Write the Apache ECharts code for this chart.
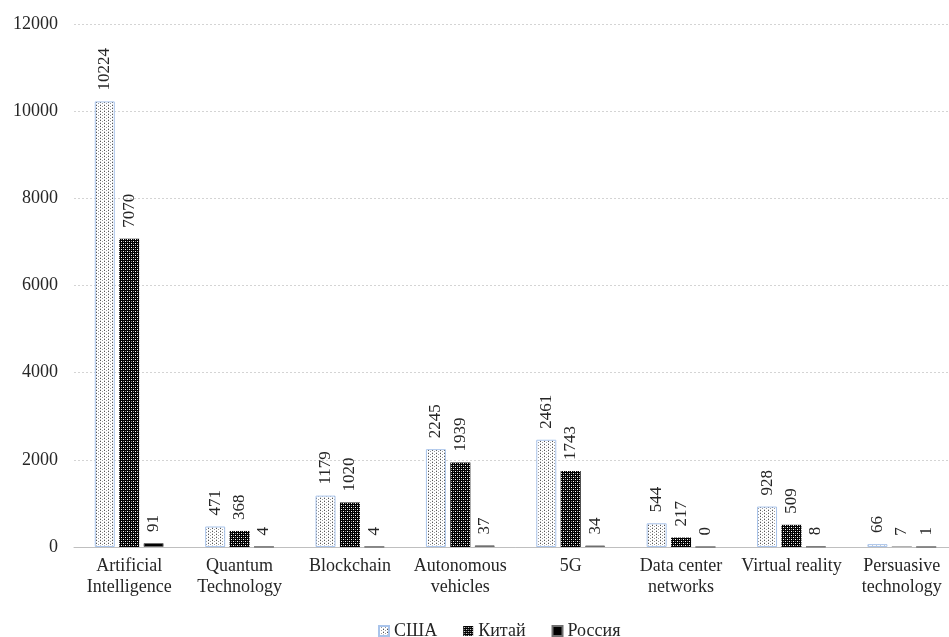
<!DOCTYPE html>
<html>
<head>
<meta charset="utf-8">
<script src="https://cdn.jsdelivr.net/npm/echarts@6/dist/echarts.min.js"></script>
<style>
  html, body { margin: 0; padding: 0; background: #fff; overflow: hidden; }
  /* drawing surface runs slightly past the right edge of the window */
  #chart { width: 957px; height: 637px; }
</style>
</head>
<body>
<div id="chart"></div>
<script>
// Categories and publication counts per country
const categories = [
  'Artificial\nIntelligence', 'Quantum\nTechnology', 'Blockchain', 'Autonomous\nvehicles',
  '5G', 'Data center\nnetworks', 'Virtual reality', 'Persuasive\ntechnology'
];
const usa    = [10224, 471, 1179, 2245, 2461, 544, 928, 66];
const china  = [7070, 368, 1020, 1939, 1743, 217, 509, 7];
const russia = [91, 4, 4, 37, 34, 0, 8, 1];
const seriesNames = ['США', 'Китай', 'Россия'];
const yTicks = { min: 0, max: 12000, interval: 2000 };

// Small tiled fills for the bars
function makeTile(w, h, draw) {
  const c = document.createElement('canvas');
  c.width = w; c.height = h;
  const ctx = c.getContext('2d');
  draw(ctx);
  return c;
}
const dottedTile = makeTile(4, 3, ctx => {
  ctx.fillStyle = '#ffffff'; ctx.fillRect(0, 0, 4, 3);
  ctx.fillStyle = '#555555';
  ctx.fillRect(0, 0, 1, 1);
  ctx.fillStyle = '#9a9a9a';
  ctx.fillRect(2, 1, 1, 1);
  ctx.fillStyle = '#c8c8c8';
  ctx.fillRect(0, 2, 1, 1);
});
const hatchTile = makeTile(4, 4, ctx => {
  ctx.fillStyle = '#000000'; ctx.fillRect(0, 0, 4, 4);
  ctx.fillStyle = '#ffffff';
  ctx.fillRect(1, 1, 1, 1);
  ctx.fillRect(3, 3, 1, 1);
  ctx.fillStyle = '#888888';
  ctx.fillRect(3, 1, 1, 1);
  ctx.fillRect(1, 3, 1, 1);
});

const serif = '"Liberation Serif", "Times New Roman", serif';
const textColor = '#262626';
const labelOpt = {
  show: true,
  position: 'top',
  rotate: 90,
  align: 'left',
  verticalAlign: 'middle',
  distance: 11,
  fontFamily: serif,
  fontSize: 17,
  color: textColor
};

const chart = echarts.init(document.getElementById('chart'));
chart.setOption({
  animation: false,
  textStyle: { fontFamily: serif },
  grid: { left: 74, right: 0, top: 24, bottom: 90 },
  legend: {
    top: 617,
    left: 373,
    icon: 'rect',
    itemWidth: 10,
    itemHeight: 10,
    itemGap: 26,
    textStyle: { fontFamily: serif, fontSize: 18, color: textColor },
    data: seriesNames
  },
  xAxis: {
    type: 'category',
    data: categories,
    axisLine: { lineStyle: { color: '#bfbfbf' } },
    axisTick: { show: false },
    axisLabel: {
      interval: 0,
      fontFamily: serif,
      fontSize: 18,
      color: textColor,
      lineHeight: 21,
      margin: 9
    }
  },
  yAxis: {
    type: 'value',
    min: yTicks.min,
    max: yTicks.max,
    interval: yTicks.interval,
    axisLine: { show: false },
    axisTick: { show: false },
    axisLabel: {
      fontFamily: serif, fontSize: 18, color: textColor, margin: 16,
      formatter: v => String(v)
    },
    splitLine: { lineStyle: { color: '#d4d4d4', type: [2, 2] } }
  },
  series: [
    {
      name: seriesNames[0], type: 'bar', data: usa,
      barWidth: 20, barGap: '22%',
      itemStyle: { color: { image: dottedTile, repeat: 'repeat' }, borderColor: '#a9c4eb', borderWidth: 1 },
      label: labelOpt
    },
    {
      name: seriesNames[1], type: 'bar', data: china,
      barWidth: 20, barGap: '22%',
      itemStyle: { color: { image: hatchTile, repeat: 'repeat' } },
      label: labelOpt
    },
    {
      name: seriesNames[2], type: 'bar', data: russia,
      barWidth: 20, barGap: '22%',
      itemStyle: { color: '#000000', borderColor: '#6f6f6f', borderWidth: 1 },
      label: labelOpt
    }
  ]
});
</script>
</body>
</html>
